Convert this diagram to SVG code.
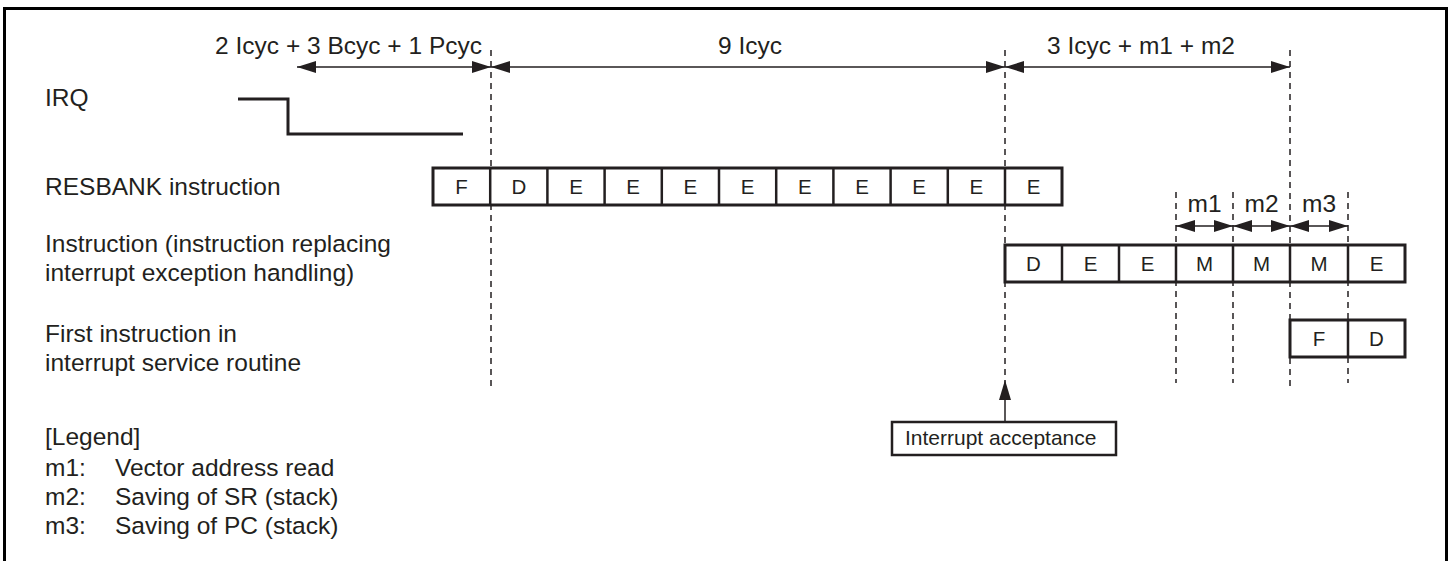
<svg xmlns="http://www.w3.org/2000/svg" width="1453" height="561" viewBox="0 0 1453 561">
<style>
text{font-family:"Liberation Sans",Arial,Helvetica,sans-serif;fill:#231f20}
.lbl{font-size:24.5px}
.cell{font-size:20.5px;text-anchor:middle}
.small{font-size:21px}
.box{fill:#fff;stroke:#231f20;stroke-width:3}
.div{stroke:#231f20;stroke-width:2.5}
.dash{stroke:#231f20;stroke-width:1.5;stroke-dasharray:6 5;fill:none}
.arr{stroke:#231f20;stroke-width:1.5;fill:none;marker-start:url(#ah);marker-end:url(#ah)}
</style>
<defs>
<marker id="ah" markerUnits="userSpaceOnUse" markerWidth="19" markerHeight="12" refX="19" refY="6" orient="auto-start-reverse">
<path d="M0,0 L19,6 L0,12 z" fill="#231f20"/>
</marker>
<marker id="ah1" markerUnits="userSpaceOnUse" markerWidth="20" markerHeight="12" refX="20" refY="6" orient="auto">
<path d="M0,0 L20,6 L0,12 z" fill="#231f20"/>
</marker>
</defs>
<rect width="1453" height="561" fill="#fff"/>
<path d="M4.5,570 V8.5 H1446.5 V570" fill="none" stroke="#000" stroke-width="3"/>

<g id="dashed-lines">
<line class="dash" x1="491" y1="50" x2="491" y2="388"/>
<line class="dash" x1="1005" y1="50" x2="1005" y2="380"/>
<line class="dash" x1="1290" y1="50" x2="1290" y2="388"/>
<line class="dash" x1="1176" y1="192" x2="1176" y2="383"/>
<line class="dash" x1="1233" y1="192" x2="1233" y2="383"/>
<line class="dash" x1="1348" y1="192" x2="1348" y2="383"/>
</g>

<g id="connectors">
<line class="arr" x1="297" y1="67" x2="491" y2="67"/>
<line class="arr" x1="491" y1="67" x2="1005" y2="67"/>
<line class="arr" x1="1005" y1="67" x2="1290" y2="67"/>
<line class="arr" x1="1176" y1="226" x2="1233" y2="226"/>
<line class="arr" x1="1233" y1="226" x2="1290" y2="226"/>
<line class="arr" x1="1290" y1="226" x2="1348" y2="226"/>
<line x1="1005" y1="422" x2="1005" y2="380" stroke="#231f20" stroke-width="1.5" marker-end="url(#ah1)"/>
</g>

<g id="timing-labels">
<text class="lbl" x="482" y="54" text-anchor="end">2 Icyc + 3 Bcyc + 1 Pcyc</text>
<text class="lbl" x="750" y="54" text-anchor="middle">9 Icyc</text>
<text class="lbl" x="1141" y="54" text-anchor="middle">3 Icyc + m1 + m2</text>
<text class="lbl" x="1204.5" y="212" text-anchor="middle">m1</text>
<text class="lbl" x="1261.5" y="212" text-anchor="middle">m2</text>
<text class="lbl" x="1319" y="212" text-anchor="middle">m3</text>
</g>

<g id="irq">
<text class="lbl" x="45" y="106">IRQ</text>
<path d="M238,99 H288 V134 H463" fill="none" stroke="#231f20" stroke-width="3"/>
</g>

<g id="resbank">
<text class="lbl" x="45" y="195">RESBANK instruction</text>
<rect class="box" x="433" y="168" width="629" height="37"/>
<g class="div">
<line x1="490.2" y1="168" x2="490.2" y2="205"/>
<line x1="547.4" y1="168" x2="547.4" y2="205"/>
<line x1="604.6" y1="168" x2="604.6" y2="205"/>
<line x1="661.8" y1="168" x2="661.8" y2="205"/>
<line x1="719" y1="168" x2="719" y2="205"/>
<line x1="776.2" y1="168" x2="776.2" y2="205"/>
<line x1="833.4" y1="168" x2="833.4" y2="205"/>
<line x1="890.6" y1="168" x2="890.6" y2="205"/>
<line x1="947.8" y1="168" x2="947.8" y2="205"/>
<line x1="1005" y1="168" x2="1005" y2="205"/>
</g>
<text class="cell" x="461.6" y="194">F</text>
<text class="cell" x="518.8" y="194">D</text>
<text class="cell" x="576" y="194">E</text>
<text class="cell" x="633.2" y="194">E</text>
<text class="cell" x="690.4" y="194">E</text>
<text class="cell" x="747.6" y="194">E</text>
<text class="cell" x="804.8" y="194">E</text>
<text class="cell" x="862" y="194">E</text>
<text class="cell" x="919.2" y="194">E</text>
<text class="cell" x="976.4" y="194">E</text>
<text class="cell" x="1033.6" y="194">E</text>
</g>

<g id="instruction">
<text class="lbl" x="45" y="252">Instruction (instruction replacing</text>
<text class="lbl" x="45" y="281">interrupt exception handling)</text>
<rect class="box" x="1005" y="245" width="400" height="37"/>
<g class="div">
<line x1="1062" y1="245" x2="1062" y2="282"/>
<line x1="1119" y1="245" x2="1119" y2="282"/>
<line x1="1176" y1="245" x2="1176" y2="282"/>
<line x1="1233" y1="245" x2="1233" y2="282"/>
<line x1="1290" y1="245" x2="1290" y2="282"/>
<line x1="1348" y1="245" x2="1348" y2="282"/>
</g>
<text class="cell" x="1033.5" y="271">D</text>
<text class="cell" x="1090.5" y="271">E</text>
<text class="cell" x="1147.5" y="271">E</text>
<text class="cell" x="1204.5" y="271">M</text>
<text class="cell" x="1261.5" y="271">M</text>
<text class="cell" x="1319" y="271">M</text>
<text class="cell" x="1376.5" y="271">E</text>
</g>

<g id="first-isr">
<text class="lbl" x="45" y="342">First instruction in</text>
<text class="lbl" x="45" y="371">interrupt service routine</text>
<rect class="box" x="1290" y="320" width="115" height="37"/>
<line class="div" x1="1348" y1="320" x2="1348" y2="357"/>
<text class="cell" x="1319" y="346">F</text>
<text class="cell" x="1376.5" y="346">D</text>
</g>

<g id="interrupt-acceptance">
<rect x="892" y="422" width="224" height="33" fill="#fff" stroke="#231f20" stroke-width="2.5"/>
<text class="small" x="905" y="445">Interrupt acceptance</text>
</g>

<g id="legend">
<text class="lbl" x="45" y="445">[Legend]</text>
<text class="lbl" x="45" y="476">m1:</text>
<text class="lbl" x="115" y="476">Vector address read</text>
<text class="lbl" x="45" y="505">m2:</text>
<text class="lbl" x="115" y="505">Saving of SR (stack)</text>
<text class="lbl" x="45" y="534">m3:</text>
<text class="lbl" x="115" y="534">Saving of PC (stack)</text>
</g>
</svg>
